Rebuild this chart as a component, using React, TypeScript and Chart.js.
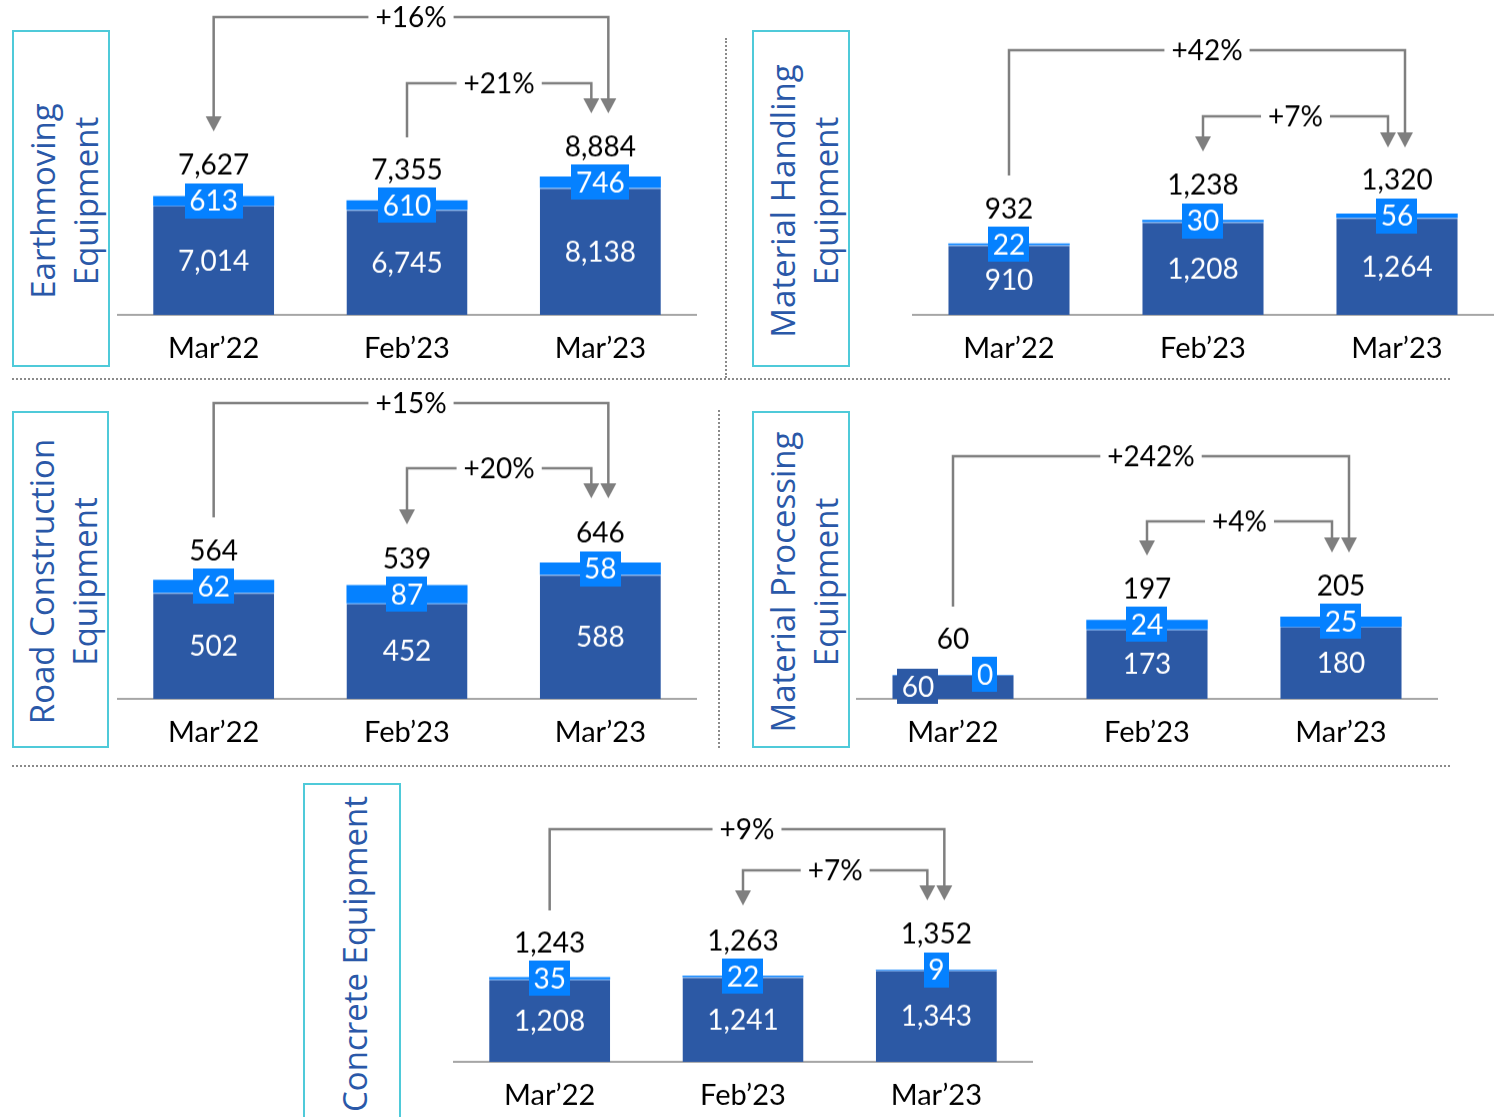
import React, { useEffect, useRef } from 'react';
import { Chart, registerables } from 'chart.js';

Chart.register(...registerables);

// ---------- data ----------
const categories = ['Mar’22', 'Feb’23', 'Mar’23'];

const earthmovingBase = [7014, 6745, 8138];
const earthmovingTop = [613, 610, 746];
const earthmovingTotal = [7627, 7355, 8884];
const earthmovingGrowth = ['+16%', '+21%'];

const handlingBase = [910, 1208, 1264];
const handlingTop = [22, 30, 56];
const handlingTotal = [932, 1238, 1320];
const handlingGrowth = ['+42%', '+7%'];

const roadBase = [502, 452, 588];
const roadTop = [62, 87, 58];
const roadTotal = [564, 539, 646];
const roadGrowth = ['+15%', '+20%'];

const processingBase = [60, 173, 180];
const processingTop = [0, 24, 25];
const processingTotal = [60, 197, 205];
const processingGrowth = ['+242%', '+4%'];

const concreteBase = [1208, 1241, 1343];
const concreteTop = [35, 22, 9];
const concreteTotal = [1243, 1263, 1352];
const concreteGrowth = ['+9%', '+7%'];

// ---------- styles ----------
const DARK = '#2C59A5';
const LIGHT = '#0581FF';
const GRAY = '#7F7F7F';
const TITLE = '#2A58A8';
const BOX = '#4FCAD9';
const NUM_FONT = 'Lato, "Open Sans", sans-serif';
const TITLE_FONT = '"Open Sans", "Noto Sans", sans-serif';

type Arrow = {
  from: number;
  to: number;
  toDx: number;
  lineY: number;
  fromEnd: number;
  fromArrow: boolean;
  toEnd: number;
};

type Panel = {
  left: number;
  top: number;
  width: number;
  plotH: number;
  yMax: number;
  base: number[];
  topv: number[];
  total: number[];
  growth: string[];
  arrows: Arrow[];
  darkDx?: number[];
  lightDx?: number[];
};

const panels: Panel[] = [
  {
    left: 117, top: 0, width: 580, plotH: 314, yMax: 20220,
    base: earthmovingBase, topv: earthmovingTop, total: earthmovingTotal, growth: earthmovingGrowth,
    arrows: [
      { from: 0, to: 2, toDx: 8, lineY: 17, fromEnd: 131, fromArrow: true, toEnd: 113 },
      { from: 1, to: 2, toDx: -9, lineY: 83, fromEnd: 137, fromArrow: false, toEnd: 113 },
    ],
  },
  {
    left: 912, top: 0, width: 582, plotH: 314, yMax: 4104,
    base: handlingBase, topv: handlingTop, total: handlingTotal, growth: handlingGrowth,
    arrows: [
      { from: 0, to: 2, toDx: 8, lineY: 50, fromEnd: 175, fromArrow: false, toEnd: 147 },
      { from: 1, to: 2, toDx: -9, lineY: 116, fromEnd: 151, fromArrow: true, toEnd: 147 },
    ],
  },
  {
    left: 117, top: 385, width: 580, plotH: 313, yMax: 1487,
    base: roadBase, topv: roadTop, total: roadTotal, growth: roadGrowth,
    arrows: [
      { from: 0, to: 2, toDx: 8, lineY: 18, fromEnd: 132, fromArrow: false, toEnd: 113 },
      { from: 1, to: 2, toDx: -9, lineY: 83, fromEnd: 139, fromArrow: true, toEnd: 113 },
    ],
  },
  {
    left: 856, top: 385, width: 582, plotH: 313, yMax: 782,
    base: processingBase, topv: processingTop, total: processingTotal, growth: processingGrowth,
    arrows: [
      { from: 0, to: 2, toDx: 8, lineY: 71, fromEnd: 221, fromArrow: false, toEnd: 167 },
      { from: 1, to: 2, toDx: -9, lineY: 136, fromEnd: 170, fromArrow: true, toEnd: 167 },
    ],
    darkDx: [-35, 0, 0],
    lightDx: [32, 0, 0],
  },
  {
    left: 453, top: 770, width: 580, plotH: 291, yMax: 4279,
    base: concreteBase, topv: concreteTop, total: concreteTotal, growth: concreteGrowth,
    arrows: [
      { from: 0, to: 2, toDx: 8, lineY: 59, fromEnd: 140, fromArrow: false, toEnd: 130 },
      { from: 1, to: 2, toDx: -9, lineY: 100, fromEnd: 135, fromArrow: true, toEnd: 130 },
    ],
  },
];

const titles = [
  { left: 12, top: 30, width: 98, height: 337, lines: ['Earthmoving', 'Equipment'] },
  { left: 752, top: 30, width: 98, height: 337, lines: ['Material Handling', 'Equipment'] },
  { left: 12, top: 411, width: 97, height: 337, lines: ['Road Construction', 'Equipment'] },
  { left: 752, top: 411, width: 98, height: 337, lines: ['Material Processing', 'Equipment'] },
  { left: 303, top: 783, width: 98, height: 338, lines: ['Concrete Equipment'] },
];

const TICK_PAD = 16;
const TICK_SIZE = 29;
const AXIS_H = TICK_PAD * 2 + TICK_SIZE * 1.2;

const fmt = (v: number) => v.toLocaleString('en-US');

function boxLabel(ctx: CanvasRenderingContext2D, text: string, x: number, y: number, bg: string) {
  ctx.font = `28px ${NUM_FONT}`;
  const w = ctx.measureText(text).width + 9;
  const h = 35;
  ctx.fillStyle = bg;
  ctx.fillRect(Math.round(x - w / 2), Math.round(y - h / 2), Math.round(w), h);
  ctx.fillStyle = '#FFFFFF';
  ctx.textAlign = 'center';
  ctx.textBaseline = 'middle';
  ctx.fillText(text, x, y + 1);
}

function arrowHead(ctx: CanvasRenderingContext2D, x: number, tip: number) {
  ctx.beginPath();
  ctx.moveTo(x - 8, tip - 15);
  ctx.lineTo(x + 8, tip - 15);
  ctx.lineTo(x, tip);
  ctx.closePath();
  ctx.fill();
}

function PanelChart({ p }: { p: Panel }) {
  const ref = useRef<HTMLCanvasElement>(null);
  useEffect(() => {
    if (!ref.current) return;
    const deco = {
      id: 'deco',
      afterDatasetsDraw(chart: any) {
        const ctx: CanvasRenderingContext2D = chart.ctx;
        const m0 = chart.getDatasetMeta(0);
        const m1 = chart.getDatasetMeta(1);
        ctx.save();
        for (let i = 0; i < categories.length; i++) {
          const b0: any = m0.data[i];
          const b1: any = m1.data[i];
          const x = b0.x;
          const darkY = (b0.y + b0.base) / 2;
          const topY = (b1.y + b1.base) / 2;
          boxLabel(ctx, fmt(p.base[i]), x + (p.darkDx ? p.darkDx[i] : 0), darkY, DARK);
          boxLabel(ctx, fmt(p.topv[i]), x + (p.lightDx ? p.lightDx[i] : 0), topY, LIGHT);
          ctx.font = `28px ${NUM_FONT}`;
          ctx.fillStyle = '#000000';
          ctx.textAlign = 'center';
          ctx.textBaseline = 'middle';
          ctx.fillText(fmt(p.total[i]), x, topY - 35);
        }
        // growth arrows
        const xs = chart.scales.x;
        ctx.strokeStyle = GRAY;
        ctx.fillStyle = GRAY;
        ctx.lineWidth = 2.5;
        p.arrows.forEach((a, k) => {
          const fx = xs.getPixelForValue(a.from);
          const tx = xs.getPixelForValue(a.to) + a.toDx;
          ctx.beginPath();
          ctx.moveTo(fx, a.fromArrow ? a.fromEnd - 14 : a.fromEnd);
          ctx.lineTo(fx, a.lineY);
          ctx.lineTo(tx, a.lineY);
          ctx.lineTo(tx, a.toEnd - 14);
          ctx.stroke();
          if (a.fromArrow) arrowHead(ctx, fx, a.fromEnd);
          arrowHead(ctx, tx, a.toEnd);
          const label = p.growth[k];
          ctx.font = `28px ${NUM_FONT}`;
          const w = ctx.measureText(label).width + 14;
          const cx = (fx + tx) / 2;
          ctx.fillStyle = '#FFFFFF';
          ctx.fillRect(cx - w / 2, a.lineY - 15, w, 30);
          ctx.fillStyle = '#000000';
          ctx.textAlign = 'center';
          ctx.textBaseline = 'middle';
          ctx.fillText(label, cx, a.lineY + 1);
          ctx.fillStyle = GRAY;
        });
        ctx.restore();
      },
    };
    const chart = new Chart(ref.current, {
      type: 'bar',
      data: {
        labels: categories,
        datasets: [
          {
            data: p.base,
            backgroundColor: DARK,
            borderColor: '#5E9CEB',
            borderWidth: { top: 1, left: 0, right: 0, bottom: 0 },
            borderSkipped: false,
            barPercentage: 0.626,
            categoryPercentage: 1,
          },
          {
            data: p.topv,
            backgroundColor: LIGHT,
            borderWidth: 0,
            barPercentage: 0.626,
            categoryPercentage: 1,
          },
        ],
      },
      options: {
        animation: false,
        responsive: true,
        maintainAspectRatio: false,
        layout: { padding: 0 },
        plugins: { legend: { display: false }, tooltip: { enabled: false } },
        scales: {
          x: {
            stacked: true,
            grid: { display: false, drawTicks: false },
            border: { display: true, color: '#A6A6A6', width: 2 },
            ticks: {
              color: '#000000',
              padding: TICK_PAD,
              font: { family: NUM_FONT, size: TICK_SIZE, lineHeight: 1.2 },
              maxRotation: 0,
              autoSkip: false,
            },
          },
          y: { stacked: true, display: false, min: 0, max: p.yMax },
        },
      },
      plugins: [deco],
    } as any);
    return () => chart.destroy();
  }, [p]);
  return (
    <div
      style={{
        position: 'absolute',
        left: p.left,
        top: p.top,
        width: p.width,
        height: p.plotH + AXIS_H,
      }}
    >
      <canvas ref={ref} />
    </div>
  );
}

function TitleBox({ t }: { t: (typeof titles)[number] }) {
  return (
    <div
      style={{
        position: 'absolute',
        left: t.left,
        top: t.top,
        width: t.width,
        height: t.height,
        border: `2px solid ${BOX}`,
        boxSizing: 'border-box',
      }}
    >
      <div
        style={{
          position: 'absolute',
          left: (t.width - t.height) / 2,
          top: (t.height - t.width) / 2,
          width: t.height,
          height: t.width,
          transform: 'rotate(-90deg)',
          display: 'flex',
          flexDirection: 'column',
          justifyContent: 'center',
          alignItems: 'center',
          fontFamily: TITLE_FONT,
          fontSize: 33,
          lineHeight: '43px',
          color: TITLE,
          whiteSpace: 'nowrap',
        }}
      >
        {t.lines.map((l) => (
          <div key={l}>{l}</div>
        ))}
      </div>
    </div>
  );
}

const dotted = '2px dotted #8A8A8A';

export default function App() {
  useEffect(() => {
    document.body.style.margin = '0';
    document.body.style.overflow = 'hidden';
  }, []);
  return (
    <div
      style={{
        position: 'absolute',
        left: 0,
        top: 0,
        width: 1504,
        height: 1117,
        overflow: 'hidden',
        background: '#FFFFFF',
      }}
    >
      <div style={{ position: 'absolute', left: 12, top: 378, width: 1438, borderTop: dotted }} />
      <div style={{ position: 'absolute', left: 12, top: 765, width: 1438, borderTop: dotted }} />
      <div style={{ position: 'absolute', left: 725, top: 38, height: 340, borderLeft: dotted }} />
      <div style={{ position: 'absolute', left: 718, top: 410, height: 338, borderLeft: dotted }} />
      {titles.map((t, i) => (
        <TitleBox key={i} t={t} />
      ))}
      {panels.map((p, i) => (
        <PanelChart key={i} p={p} />
      ))}
    </div>
  );
}
